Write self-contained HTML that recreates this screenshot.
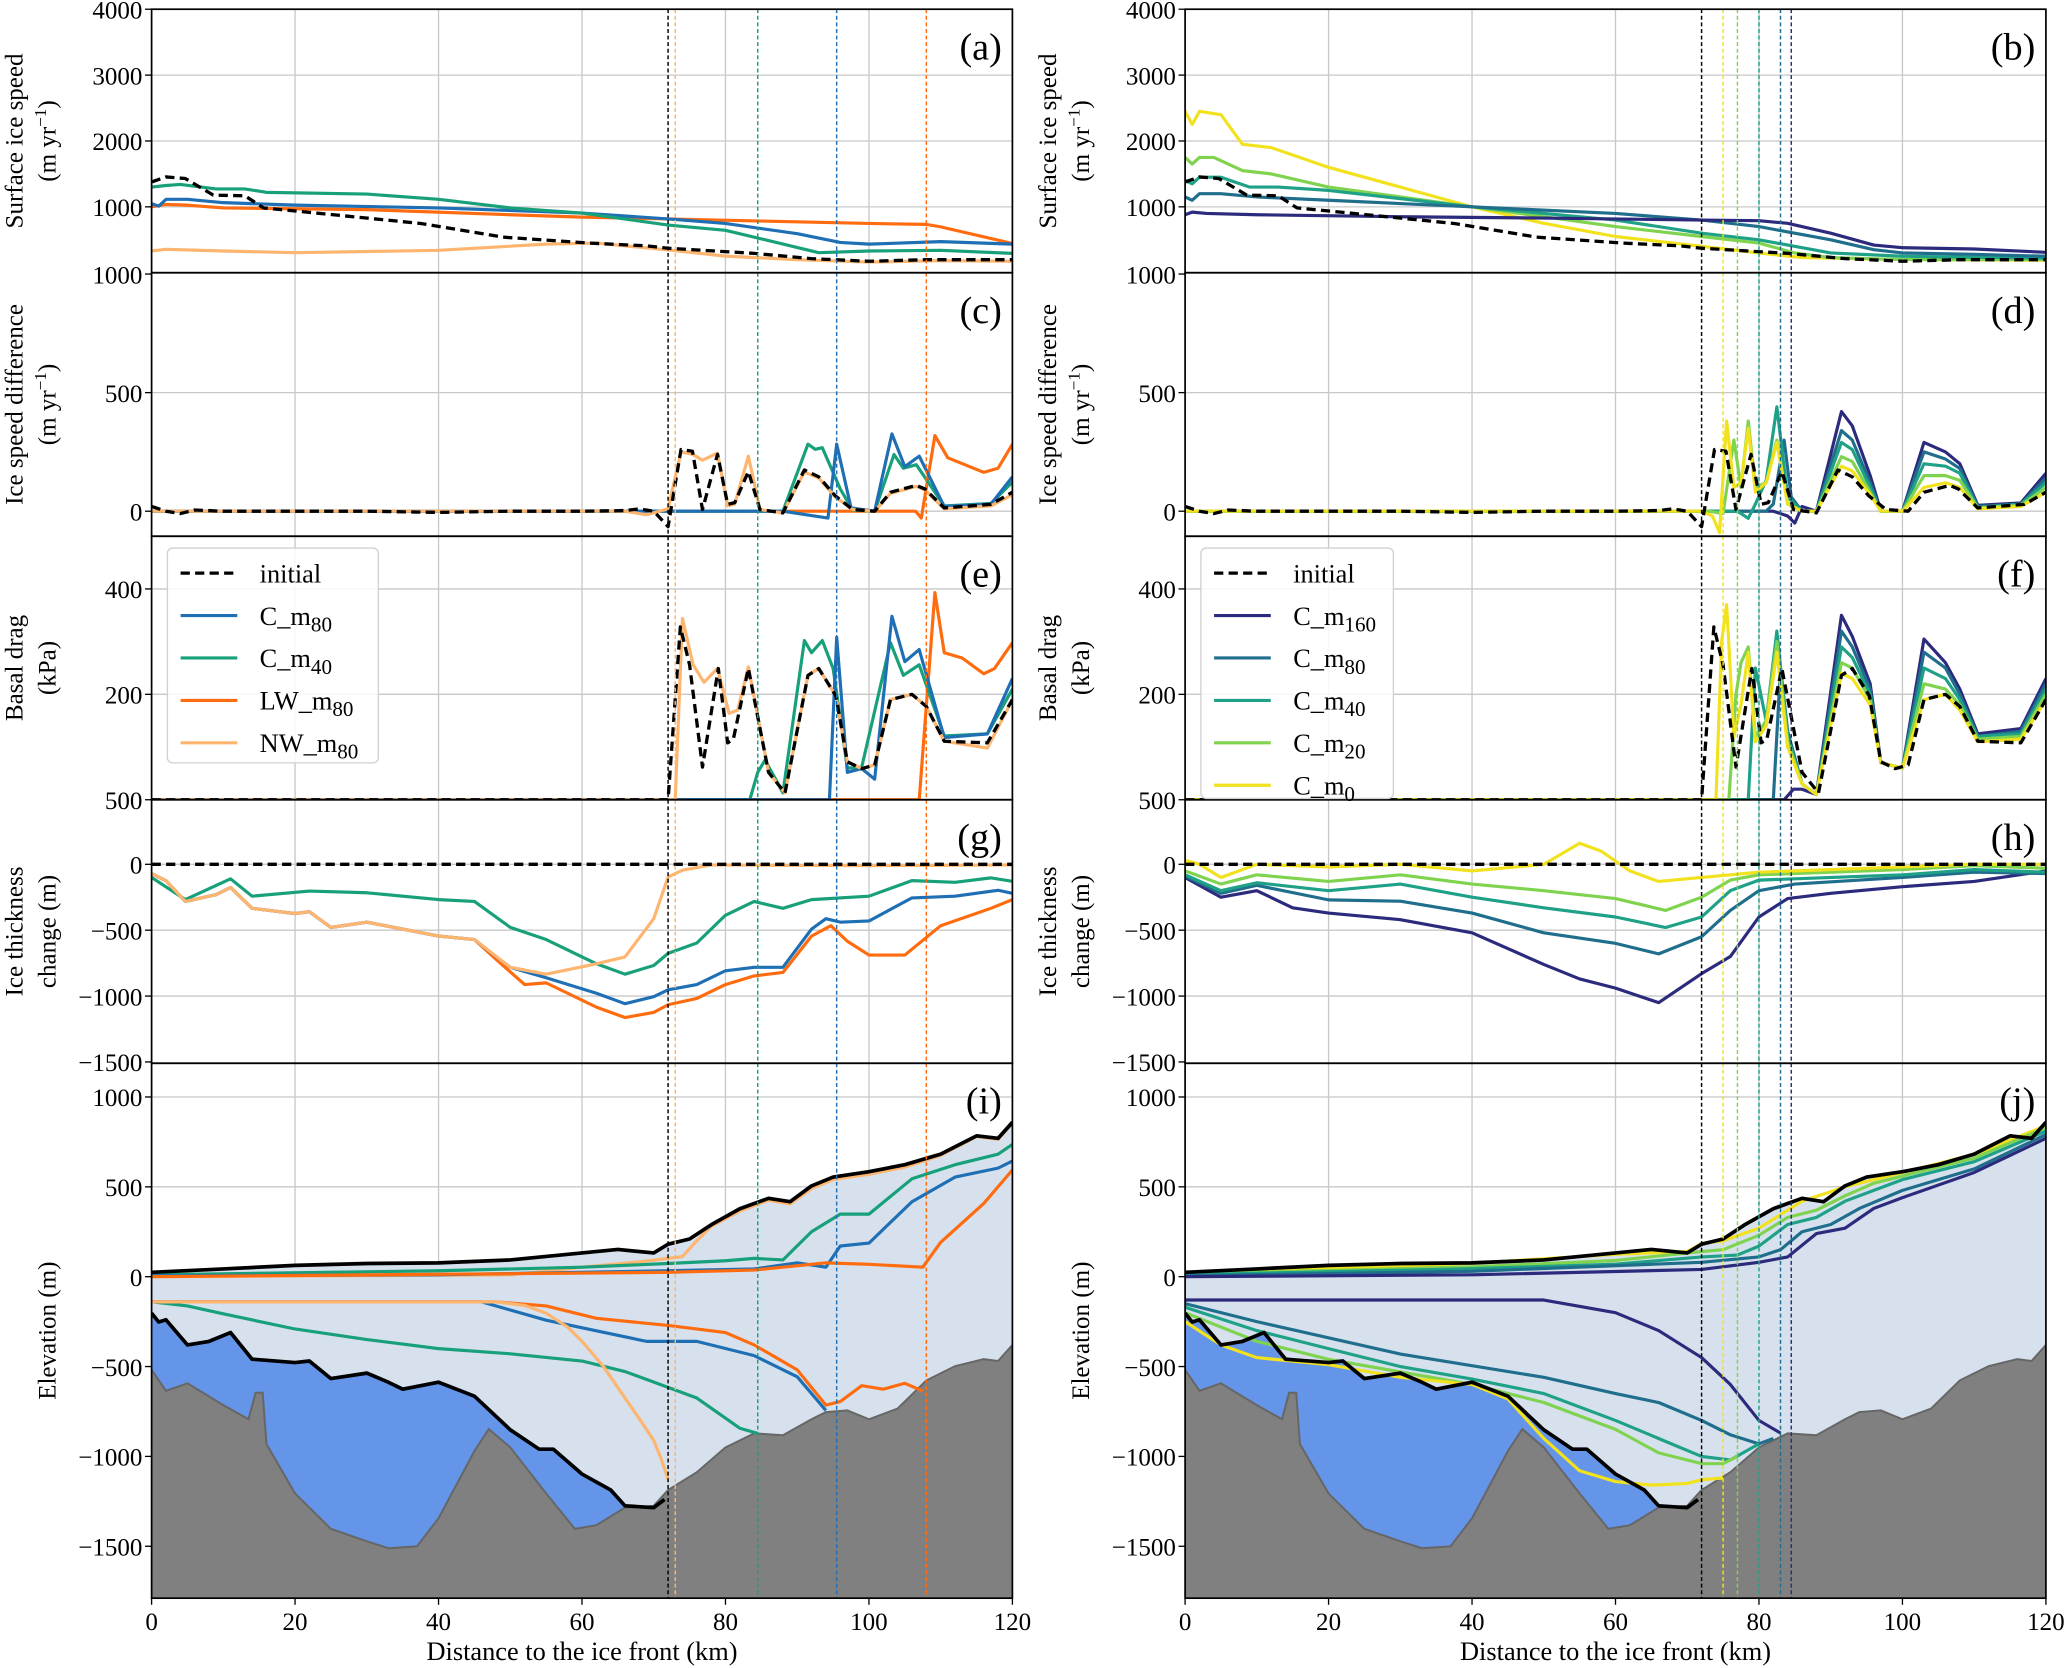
<!DOCTYPE html>
<html><head><meta charset="utf-8"><style>
html,body{margin:0;padding:0;background:#fff;}
svg{display:block;font-family:"Liberation Serif","DejaVu Serif",serif;}
</style></head><body>
<svg id="fig" xmlns="http://www.w3.org/2000/svg" width="2067" height="1668" viewBox="0 0 1568 1266" preserveAspectRatio="none"></svg>
<script>
// ---------- data ----------
const a_init_km=[0,2,4.7,8.6,13,15.6,22,37.5,49,61,69,72,84,92,100,108,120];
const a_init_v=[1377,1455,1430,1178,1168,984,916,749,540,450,408,372,293,215,173,199,199];
const a_c40_km=[0,2,4,9,13,16,30,40,50,60,72,80,85,93,100,110,120];
const a_c40_v=[1300,1325,1340,1272,1272,1220,1194,1115,984,906,723,644,513,304,330,340,293];
const a_c80_km=[0,1,2,5,10,20,40,60,72,80,90,96,100,110,120];
const a_c80_v=[1050,1010,1115,1115,1063,1026,984,906,817,749,592,460,435,471,435];
const a_lw_km=[0,2,5,10,30,50,60,72,85,100,108,110,120];
const a_lw_v=[1000,1036,1026,984,958,880,843,817,785,749,733,696,445];
const a_nw_km=[0,2,10,20,40,55,62,72,80,90,100,110,120];
const a_nw_v=[330,356,330,304,340,435,450,346,251,199,162,183,173];
const b_m160_km=[0,1,3,10,30,50,72,80,84,90,96,100,110,120];
const b_m160_v=[880,920,900,880,850,830,800,790,750,600,420,380,360,310];
const b_m80_km=[0,1,2,5,10,20,40,60,72,80,90,96,100,110,120];
const b_m80_v=[1150,1100,1200,1200,1150,1100,1000,900,800,700,500,350,300,280,250];
const b_m40_km=[0,1,2,5,9,13,20,40,60,72,80,90,100,120];
const b_m40_v=[1400,1350,1450,1450,1300,1300,1250,1000,800,600,500,300,250,220];
const b_m20_km=[0,1,2,4,8,12,20,30,40,50,60,72,80,85,90,100,120];
const b_m20_v=[1750,1650,1750,1750,1550,1500,1300,1150,1000,850,700,550,450,300,230,200,200];
const b_m0_km=[0,1,2,5,8,12,20,30,40,50,60,72,80,86,100,120];
const b_m0_v=[2450,2250,2450,2400,1950,1900,1600,1300,1000,750,550,400,300,230,200,190];

const c_init_km=[0,2,4,6,10,20,30,40,50,60,66,68,70,72,73.8,75.4,76.8,78.9,80.3,81.3,83.2,84.8,88,91,93,95.3,97.7,100.8,103,106.6,107.8,110.5,117,120];
const c_init_v=[20,0,-10,5,0,0,0,-5,0,0,3,10,0,-65,260,253,7,240,29,36,167,7,-7,174,145,65,7,0,80,109,94,14,29,80];
const c_nw_km=[0,66,69,72,73.8,75.4,76.8,78.9,80.3,81.3,83.2,84.8,88,91,93,95.3,97.7,100.8,103,106.6,107.8,110.5,117,120];
const c_nw_v=[0,0,-15,10,250,240,215,245,22,30,232,7,-7,165,140,60,7,0,75,105,90,10,22,70];
const c_c40_km=[0,84,88,91.5,92.5,93.5,96,97.7,100.8,103.5,104.8,106.6,110.5,117,120];
const c_c40_v=[0,0,0,283,261,268,94,5,0,239,181,196,22,33,123];
const c_c80_km=[0,88,94.3,95.5,97.5,100.8,103.2,105,107,110.5,117,120];
const c_c80_v=[0,0,-29,283,14,0,326,188,232,20,30,145];
const c_lw_km=[0,106.5,107.3,109.2,111,116,118,120];
const c_lw_v=[0,0,-29,319,225,164,181,283];
const d_m0_km=[0,72,73.5,74.5,75.5,76.5,77.5,78.5,79.5,81,82.5,84,86,88,91.5,93,95.5,97,100,103,106,108,110.5,116.5,120];
const d_m0_v=[0,0,-20,-90,380,100,120,350,80,120,290,30,0,0,190,170,70,0,0,100,120,100,10,20,80];
const d_m20_km=[0,73,75,76.5,77.5,78.5,79.5,81,82.5,84,86,88,91.5,93,95.5,97,100,103,106,108,110.5,116.5,120];
const d_m20_v=[0,0,-10,300,100,380,100,120,300,30,0,0,230,210,80,0,0,150,150,130,15,25,100];
const d_m40_km=[0,77,78.5,79.5,81,82.5,84,86,88,91.5,93,95.5,97,100,103,106,108,110.5,116.5,120];
const d_m40_v=[0,0,-30,30,130,440,60,0,0,290,260,100,0,0,200,190,160,15,30,120];
const d_m80_km=[0,81,82,83.5,84.5,86,88,91.5,93,95.5,97,100,103,106,108,110.5,116.5,120];
const d_m80_v=[0,0,30,300,60,0,0,340,300,120,0,0,250,220,180,20,30,140];
const d_m160_km=[0,82,84,85,86,88,91.5,93,95.5,97,100,103,106,108,110.5,116.5,120];
const d_m160_v=[0,0,-20,-50,20,0,420,360,150,0,0,290,250,200,25,35,160];

const e_init_km=[0,72,73.7,75,76.8,79,80.3,81.1,83.2,86,88.3,91.5,93,95.4,97,99,100.8,103,106,108,110.5,116.5,120];
const e_init_v=[0,0,328,256,62,249,108,115,249,52,13,236,249,197,72,59,66,190,200,177,111,108,190];
const e_nw_km=[0,73,74,75.5,77,78.9,80.5,81.7,83.2,86,88.3,91.5,93,95.4,97,99,100.8,103,106,108,110.5,116.5,120];
const e_nw_v=[0,0,344,256,223,249,164,170,252,52,13,236,249,197,72,59,66,190,200,177,111,98,190];
const e_c40_km=[0,83.4,84.5,85.5,87,88,91,92,93.5,95,97,99,103,104.8,107,110.5,116.5,120];
const e_c40_v=[0,0,52,75,39,13,302,279,302,249,60,62,298,236,256,121,125,210];
const e_c80_km=[0,94.5,95.5,97,99,100.8,103.2,105,107,110.5,116.5,120];
const e_c80_v=[0,0,308,52,59,39,348,262,285,118,125,230];
const e_lw_km=[0,107,109.2,110.5,113,116,117.5,120];
const e_lw_v=[0,0,393,279,269,239,249,298];
const f_m0_km=[0,74,74.8,75.5,76.5,77.5,78.5,79.5,81,82.5,84,86,88,91.5,93,95.5,97,100,103,106,108,110.5,116.5,120];
const f_m0_v=[0,0,300,370,120,180,280,110,140,280,100,30,10,240,230,180,70,60,190,200,170,110,115,190];
const f_m20_km=[0,75.8,76.8,77.5,78.5,79.5,81,82.5,84,86,88,91.5,93,95.5,97,100,103,106,108,110.5,116.5,120];
const f_m20_v=[0,0,200,260,290,120,150,300,110,30,10,260,250,190,70,60,220,210,180,115,120,200];
const f_m40_km=[0,78.5,79.5,81,82.5,84,86,88,91.5,93,95.5,97,100,103,106,108,110.5,116.5,120];
const f_m40_v=[0,0,250,150,320,120,30,10,290,270,200,70,60,250,230,190,120,125,210];
const f_m80_km=[0,82,83,84,86,88,91.5,93,95.5,97,100,103,106,108,110.5,116.5,120];
const f_m80_v=[0,0,250,130,30,10,320,290,210,70,60,280,250,200,120,130,220];
const f_m160_km=[0,83.5,84.8,86,88,91.5,93,95.5,97,100,103,106,108,110.5,116.5,120];
const f_m160_v=[0,0,20,20,10,350,310,220,70,60,305,260,210,125,135,230];

const g_init_km=[0,120];
const g_init_v=[0,0];
const g_nw_km=[0,2,4.7,9,11,14,20,22,25,30,40,45,50,55,62,66,70,72,74,78,100,120];
const g_nw_v=[-71,-124,-282,-230,-176,-334,-374,-360,-479,-439,-545,-571,-782,-834,-755,-703,-413,-97,-45,-5,-10,-5];
const g_c40_km=[0,4.7,11,14,22,30,40,45,50,55,62,66,70,72,76,80,84,88,92,100,106,112,117,120];
const g_c40_v=[-100,-268,-110,-242,-203,-216,-268,-282,-479,-571,-755,-834,-768,-676,-597,-387,-282,-334,-268,-242,-124,-137,-103,-129];
const g_c80_km=[0,2,4.7,9,11,14,20,22,25,30,40,45,48,50,55,62,66,70,72,76,80,84,88,92,94,96,100,106,112,118,120];
const g_c80_v=[-71,-124,-282,-230,-176,-334,-374,-360,-479,-439,-545,-571,-700,-782,-861,-979,-1058,-1005,-953,-913,-808,-782,-782,-492,-413,-439,-430,-255,-242,-197,-220];
const g_lw_km=[0,2,4.7,9,11,14,20,22,25,30,40,45,48,52,55,62,66,70,72,76,80,84,88,92,94.7,97,100,105,110,117,120];
const g_lw_v=[-71,-124,-282,-230,-176,-334,-374,-360,-479,-439,-545,-571,-720,-913,-900,-1084,-1163,-1124,-1066,-1018,-913,-847,-821,-545,-466,-584,-689,-689,-466,-334,-268];
const h_m0_km=[0,2,5,10,20,30,40,50,55,58,62,66,72,80,100,110,120];
const h_m0_v=[30,0,-100,0,-20,0,-50,0,160,100,-50,-130,-100,-60,-20,0,0];
const h_m20_km=[0,5,10,20,30,40,50,60,67,72,76,80,100,110,120];
const h_m20_v=[-50,-150,-80,-130,-80,-150,-200,-260,-350,-250,-120,-80,-40,-10,-30];
const h_m40_km=[0,5,10,20,30,40,50,60,67,72,76,80,100,110,120];
const h_m40_v=[-80,-200,-140,-200,-150,-250,-330,-400,-480,-400,-200,-120,-80,-40,-60];
const h_m80_km=[0,5,10,20,30,40,50,60,66,72,76,80,85,100,110,120];
const h_m80_v=[-90,-220,-160,-270,-280,-370,-520,-600,-680,-550,-350,-200,-150,-100,-60,-70];
const h_m160_km=[0,5,10,15,20,30,40,50,55,60,66,72,76,80,84,90,100,110,120];
const h_m160_v=[-100,-250,-200,-330,-370,-420,-520,-760,-870,-940,-1050,-830,-700,-400,-260,-220,-170,-130,-50];

const i_surf_km=[0,10,20,30,40,50,60,65,70,72,75,78,82,86,89,92,95,100,105,110,115,118,120];
const i_surf_v=[24,43,63,73,77,93,132,152,132,181,210,289,378,436,417,505,554,584,623,682,784,770,859];
const i_bed_km=[0,2,5,10,13.5,14.5,15.5,16,20,25,30,33,37,40,45,47,50,55,59,62,66,70,72,76,80,84,88,92,94,97,100,104,108,112,116,118,120];
const i_bed_v=[-518,-635,-593,-715,-793,-646,-646,-931,-1206,-1403,-1472,-1511,-1501,-1344,-970,-848,-950,-1206,-1403,-1383,-1285,-1275,-1187,-1088,-950,-872,-882,-793,-754,-744,-793,-734,-577,-498,-459,-469,-380];
const i_base_km=[0,1,2,5,8,11,14,20,22,25,30,33,35,40,45,50,54,56,60,64,66,70,71.5];
const i_base_v=[-203,-252,-240,-380,-360,-311,-459,-478,-469,-567,-537,-587,-626,-587,-665,-852,-960,-960,-1098,-1187,-1275,-1285,-1240];
const i_nwt_km=[0,50,60,68,72,74,76,78,82,86,89,92,95,100,105,110,115,118,120];
const i_nwt_v=[0,10,53,83,102,112,200,280,365,425,405,490,540,570,610,675,780,765,855];
const i_c40t_km=[0,40,60,72,80,84,88,92,96,100,106,112,118,120];
const i_c40t_v=[10,33,53,73,89,102,93,250,348,348,545,623,682,736];
const i_c80t_km=[0,40,72,84,90,94,96,100,106,112,118,120];
const i_c80t_v=[5,10,33,43,77,53,171,187,417,554,604,644];
const i_lwt_km=[0,72,84,94,100,107.5,110,116,120];
const i_lwt_v=[0,24,37,77,69,53,191,407,594];
const i_nwb_km=[0,48,52,55,58,60,63,66,68,70,71,72];
const i_nwb_v=[-140,-140,-160,-203,-280,-360,-500,-675,-790,-911,-1010,-1127];
const i_c80b_km=[0,46,55,62,69,76,84,90,94];
const i_c80b_v=[-140,-140,-242,-301,-360,-360,-439,-557,-744];
const i_lwb_km=[0,48,55,62,72,80,84,90,94,96,99,102,105,107.5];
const i_lwb_v=[-140,-140,-163,-232,-271,-311,-380,-518,-715,-695,-606,-626,-593,-636];
const i_c40b_km=[0,5,10,20,30,40,50,60,66,72,76,82,84.5];
const i_c40b_v=[-140,-163,-207,-291,-350,-400,-429,-469,-528,-616,-675,-843,-872];
const j_m0t_km=[0,20,40,60,70,72,75,80,86,92,100,110,120];
const j_m0t_v=[20,45,75,125,140,185,200,270,420,500,580,680,840];
const j_m20t_km=[0,40,60,72,75,80,84,88,92,96,100,110,120];
const j_m20t_v=[15,55,90,140,150,230,330,370,450,520,560,660,830];
const j_m40t_km=[0,40,60,72,77,80,84,88,92,96,100,110,120];
const j_m40t_v=[10,45,70,110,120,170,290,330,420,480,540,640,810];
const j_m80t_km=[0,40,72,80,83,86,90,94,100,110,120];
const j_m80t_v=[5,30,80,110,150,250,290,380,480,600,790];
const j_m160t_km=[0,40,72,80,84,88,92,96,100,110,120];
const j_m160t_v=[0,10,40,80,110,240,270,380,440,580,770];
const j_m160b_km=[0,50,60,66,72,76,80,83];
const j_m160b_v=[-130,-130,-200,-300,-450,-600,-800,-870];
const j_m80b_km=[0,10,30,50,60,66,72,76,80,82];
const j_m80b_v=[-150,-250,-430,-560,-650,-700,-800,-880,-930,-900];
const j_m40b_km=[0,10,20,30,40,50,60,66,72,76,80];
const j_m40b_v=[-170,-300,-400,-500,-570,-650,-800,-900,-1000,-1020,-930];
const j_m20b_km=[0,10,20,30,40,50,60,66,72,75,77];
const j_m20b_v=[-200,-360,-460,-530,-600,-700,-850,-980,-1040,-1040,-1000];
const j_m0b_km=[0,5,10,20,30,40,45,50,55,60,65,70,72,75];
const j_m0b_v=[-250,-380,-450,-490,-560,-600,-680,-900,-1080,-1140,-1160,-1150,-1130,-1120];

const xTicks=[0,20,40,60,80,100,120];
const leftMarks=[72,73,84.5,95.5,108];
const rightMarks=[72,75,77,80,83,84.5];

// ---------- drawing ----------
const NS='http://www.w3.org/2000/svg';
const svg=document.getElementById('fig');
const C={init:'#000',c80:'#1f6fb4',c40:'#17a07a',lw:'#ff6b0f',nw:'#fdb56f',v160:'#2c2a7c',v80:'#1f6e8c',v40:'#1fa187',v20:'#7fd34e',v0:'#f2e11d'};
function el(tag,attrs,parent){const e=document.createElementNS(NS,tag);for(const k in attrs)e.setAttribute(k,attrs[k]);(parent||svg).appendChild(e);return e;}
const sides={L:{x0:115,x1:768},R:{x0:899,x1:1552}};
const rows={
 a:{top:7,bot:207,zero:207,k:0.05},
 c:{top:207,bot:407,zero:388,k:0.18},
 e:{top:407,bot:607,zero:607,k:0.4},
 g:{top:607,bot:807,zero:656,k:0.1},
 i:{top:807,bot:1213,zero:969,k:0.1364}};
function xs(side,km){const s=sides[side];return s.x0+km*(s.x1-s.x0)/120;}
function ys(row,v){const r=rows[row];return r.zero-v*r.k;}
function pts(side,row,km,v){return km.map((k,i)=>xs(side,k).toFixed(1)+','+ys(row,v[i]).toFixed(1));}
function line(side,row,km,v,color,name,dash,w){
 const p=el('polyline',{points:pts(side,row,km,v).join(' '),fill:'none',stroke:color,'stroke-width':w||2.4,'stroke-linejoin':'round','clip-path':'url(#clip'+side+row+')'});
 if(dash)p.setAttribute('stroke-dasharray',dash);
 
 
 return p;}
function poly(side,row,km,v,botV,color,name){
 const p=pts(side,row,km,v);
 p.push(xs(side,km[km.length-1]).toFixed(1)+','+ys(row,botV));p.push(xs(side,km[0]).toFixed(1)+','+ys(row,botV));
 const e=el('polygon',{points:p.join(' '),fill:color,stroke:'none','clip-path':'url(#clip'+side+row+')'});
 
 
 return e;}
const defs=el('defs',{});
for(const s in sides)for(const r in rows){const cp=el('clipPath',{id:'clip'+s+r},defs);el('rect',{x:sides[s].x0,y:rows[r].top,width:sides[s].x1-sides[s].x0,height:rows[r].bot-rows[r].top},cp);}
const yTicks={a:[1000,2000,3000,4000],c:[0,500,1000],e:[200,400],g:[-1500,-1000,-500,0,500],i:[-1500,-1000,-500,0,500,1000]};
for(const s in sides){const S=sides[s];
 for(const r in rows){const R=rows[r];
  for(const t of xTicks.slice(1,-1)){const g=el('line',{x1:xs(s,t),x2:xs(s,t),y1:R.top,y2:R.bot,stroke:'#c8c8c8','stroke-width':1});}
  for(const t of yTicks[r]){const y=ys(r,t);
   if(y>R.top+1&&y<R.bot-1){const g=el('line',{x1:S.x0,x2:S.x1,y1:y,y2:y,stroke:'#c8c8c8','stroke-width':1});}
   const yy=Math.min(Math.max(y,R.top),R.bot);
   el('line',{x1:S.x0-5,x2:S.x0,y1:yy,y2:yy,stroke:'#000','stroke-width':1});
   const tx=el('text',{x:S.x0-7,y:yy+7,'text-anchor':'end','font-size':19});tx.textContent=String(t).replace('-','\u2212');
   }
 }
}
for(const s of ['L','R']){
 poly(s,'i',i_surf_km,i_surf_v,-1800,'#d7e1ed','ice-fill');
 poly(s,'i',i_base_km,i_base_v,-1800,'#6495e8','ocean-fill');
 const b=poly(s,'i',i_bed_km,i_bed_v,-1800,'#808080','bedrock-fill');b.setAttribute('stroke','#666');b.setAttribute('stroke-width','1.5');
}
line('L','a',a_nw_km,a_nw_v,C.nw,'nw-m80-speed');line('L','a',a_lw_km,a_lw_v,C.lw,'lw-m80-speed');line('L','a',a_c80_km,a_c80_v,C.c80,'c-m80-speed');line('L','a',a_c40_km,a_c40_v,C.c40,'c-m40-speed');line('L','a',a_init_km,a_init_v,C.init,'initial-speed','7,4',2.5);
line('R','a',b_m0_km,b_m0_v,C.v0,'c-m0-speed');line('R','a',b_m20_km,b_m20_v,C.v20,'c-m20-speed');line('R','a',b_m40_km,b_m40_v,C.v40,'c-m40-speed');line('R','a',b_m80_km,b_m80_v,C.v80,'c-m80-speed');line('R','a',b_m160_km,b_m160_v,C.v160,'c-m160-speed');line('R','a',a_init_km,a_init_v,C.init,'initial-speed','7,4',2.5);
line('L','c',c_lw_km,c_lw_v,C.lw,'lw-m80-diff');line('L','c',c_c40_km,c_c40_v,C.c40,'c-m40-diff');line('L','c',c_c80_km,c_c80_v,C.c80,'c-m80-diff');line('L','c',c_nw_km,c_nw_v,C.nw,'nw-m80-diff');line('L','c',c_init_km,c_init_v,C.init,'initial-diff','7,4',2.5);
line('R','c',d_m160_km,d_m160_v,C.v160,'c-m160-diff');line('R','c',d_m80_km,d_m80_v,C.v80,'c-m80-diff');line('R','c',d_m40_km,d_m40_v,C.v40,'c-m40-diff');line('R','c',d_m20_km,d_m20_v,C.v20,'c-m20-diff');line('R','c',d_m0_km,d_m0_v,C.v0,'c-m0-diff');line('R','c',c_init_km,c_init_v,C.init,'initial-diff','7,4',2.5);
line('L','e',e_lw_km,e_lw_v,C.lw,'lw-m80-drag');line('L','e',e_c40_km,e_c40_v,C.c40,'c-m40-drag');line('L','e',e_c80_km,e_c80_v,C.c80,'c-m80-drag');line('L','e',e_nw_km,e_nw_v,C.nw,'nw-m80-drag');line('L','e',e_init_km,e_init_v,C.init,'initial-drag','7,4',2.5);
line('R','e',f_m160_km,f_m160_v,C.v160,'c-m160-drag');line('R','e',f_m80_km,f_m80_v,C.v80,'c-m80-drag');line('R','e',f_m40_km,f_m40_v,C.v40,'c-m40-drag');line('R','e',f_m20_km,f_m20_v,C.v20,'c-m20-drag');line('R','e',f_m0_km,f_m0_v,C.v0,'c-m0-drag');line('R','e',e_init_km,e_init_v,C.init,'initial-drag','7,4',2.5);
line('L','g',g_lw_km,g_lw_v,C.lw,'lw-m80-thickness');line('L','g',g_c80_km,g_c80_v,C.c80,'c-m80-thickness');line('L','g',g_c40_km,g_c40_v,C.c40,'c-m40-thickness');line('L','g',g_nw_km,g_nw_v,C.nw,'nw-m80-thickness');line('L','g',g_init_km,g_init_v,C.init,'initial-thickness','7,4',2.5);
line('R','g',h_m160_km,h_m160_v,C.v160,'c-m160-thickness');line('R','g',h_m80_km,h_m80_v,C.v80,'c-m80-thickness');line('R','g',h_m40_km,h_m40_v,C.v40,'c-m40-thickness');line('R','g',h_m20_km,h_m20_v,C.v20,'c-m20-thickness');line('R','g',h_m0_km,h_m0_v,C.v0,'c-m0-thickness');line('R','g',g_init_km,g_init_v,C.init,'initial-thickness','7,4',2.5);
line('L','i',i_nwt_km,i_nwt_v,C.nw,'nw-m80-surface');line('L','i',i_c40t_km,i_c40t_v,C.c40,'c-m40-surface');line('L','i',i_c80t_km,i_c80t_v,C.c80,'c-m80-surface');line('L','i',i_lwt_km,i_lwt_v,C.lw,'lw-m80-surface');
line('L','i',i_c40b_km,i_c40b_v,C.c40,'c-m40-base');line('L','i',i_c80b_km,i_c80b_v,C.c80,'c-m80-base');line('L','i',i_lwb_km,i_lwb_v,C.lw,'lw-m80-base');line('L','i',i_nwb_km,i_nwb_v,C.nw,'nw-m80-base');
line('R','i',j_m0t_km,j_m0t_v,C.v0,'c-m0-surface');line('R','i',j_m20t_km,j_m20t_v,C.v20,'c-m20-surface');line('R','i',j_m40t_km,j_m40t_v,C.v40,'c-m40-surface');line('R','i',j_m80t_km,j_m80t_v,C.v80,'c-m80-surface');line('R','i',j_m160t_km,j_m160t_v,C.v160,'c-m160-surface');
line('R','i',j_m160b_km,j_m160b_v,C.v160,'c-m160-base');line('R','i',j_m80b_km,j_m80b_v,C.v80,'c-m80-base');line('R','i',j_m40b_km,j_m40b_v,C.v40,'c-m40-base');line('R','i',j_m20b_km,j_m20b_v,C.v20,'c-m20-base');line('R','i',j_m0b_km,j_m0b_v,C.v0,'c-m0-base');
for(const s of ['L','R']){line(s,'i',i_surf_km,i_surf_v,'#000','initial-surface',null,2.8);line(s,'i',i_base_km,i_base_v,'#000','initial-ice-base',null,2.8);}
const lmc=[C.init,C.nw,C.c40,C.c80,C.lw], rmc=[C.init,C.v0,C.v20,C.v40,C.v80,C.v160];
leftMarks.forEach((k,i)=>{const l=el('line',{x1:xs('L',k),x2:xs('L',k),y1:7,y2:1213,stroke:lmc[i],'stroke-width':1.1,'stroke-dasharray':'3,2'});});
rightMarks.forEach((k,i)=>{const l=el('line',{x1:xs('R',k),x2:xs('R',k),y1:7,y2:1213,stroke:rmc[i],'stroke-width':1.1,'stroke-dasharray':'3,2'});});
const letters={L:{a:'(a)',c:'(c)',e:'(e)',g:'(g)',i:'(i)'},R:{a:'(b)',c:'(d)',e:'(f)',g:'(h)',i:'(j)'}};
for(const s in sides){const S=sides[s];
 for(const r in rows){const R=rows[r];
  const f=el('rect',{x:S.x0,y:R.top,width:S.x1-S.x0,height:R.bot-R.top,fill:'none',stroke:'#000','stroke-width':1.3});
  const t=el('text',{x:S.x1-8,y:R.top+38,'text-anchor':'end','font-size':29});t.textContent=letters[s][r];}
 for(const t of xTicks){el('line',{x1:xs(s,t),x2:xs(s,t),y1:1213,y2:1218,stroke:'#000','stroke-width':1});
  const tx=el('text',{x:xs(s,t),y:1237,'text-anchor':'middle','font-size':19});tx.textContent=t;}
 const xt=el('text',{x:(S.x0+S.x1)/2,y:1260,'text-anchor':'middle','font-size':20});xt.textContent='Distance to the ice front (km)';
}
function ytitle(x,y,l1,l2,sup){
 const g=el('g',{transform:'translate('+x+','+y+') rotate(-90)'});
 
 const t1=el('text',{x:0,y:0,'text-anchor':'middle','font-size':19},g);t1.textContent=l1;
 if(l2){const t2=el('text',{x:0,y:25,'text-anchor':'middle','font-size':19},g);
  if(sup){t2.appendChild(document.createTextNode('(m yr'));const ts=el('tspan',{dy:-7,'font-size':13},t2);ts.textContent='\u22121';const t3=el('tspan',{dy:7},t2);t3.textContent=')';}
  else t2.textContent=l2;}
}
for(const [dx] of [[0],[784]]){
 ytitle(17+dx,107,'Surface ice speed','x',true);
 ytitle(17+dx,307,'Ice speed difference','x',true);
 ytitle(17+dx,507,'Basal drag','(kPa)');
 ytitle(17+dx,707,'Ice thickness','change (m)');
 ytitle(42+dx,1010,'Elevation (m)');
}
function legend(x,y,w,h,items){
 const g=el('g',{});
 el('rect',{x:x,y:y,width:w,height:h,rx:4,fill:'#fff','fill-opacity':0.85,stroke:'#d0d0d0'},g);
 items.forEach((it,i)=>{const yy=y+19+i*32.2;
  const l=el('line',{x1:x+10,x2:x+53,y1:yy,y2:yy,stroke:it[1],'stroke-width':2.4},g);if(it[2])l.setAttribute('stroke-dasharray','7,4');
  const t=el('text',{x:x+70,y:yy+7,'font-size':20},g);
  const parts=it[0].split('|');t.appendChild(document.createTextNode(parts[0]));
  if(parts[1]){const s=el('tspan',{dy:5,'font-size':16},t);s.textContent=parts[1];}});
}
legend(127,416,160,163,[['initial','#000',true],['C_m|80',C.c80],['C_m|40',C.c40],['LW_m|80',C.lw],['NW_m|80',C.nw]]);
legend(911,416,146,190,[['initial','#000',true],['C_m|160',C.v160],['C_m|80',C.v80],['C_m|40',C.v40],['C_m|20',C.v20],['C_m|0',C.v0]]);
</script>
</body></html>
